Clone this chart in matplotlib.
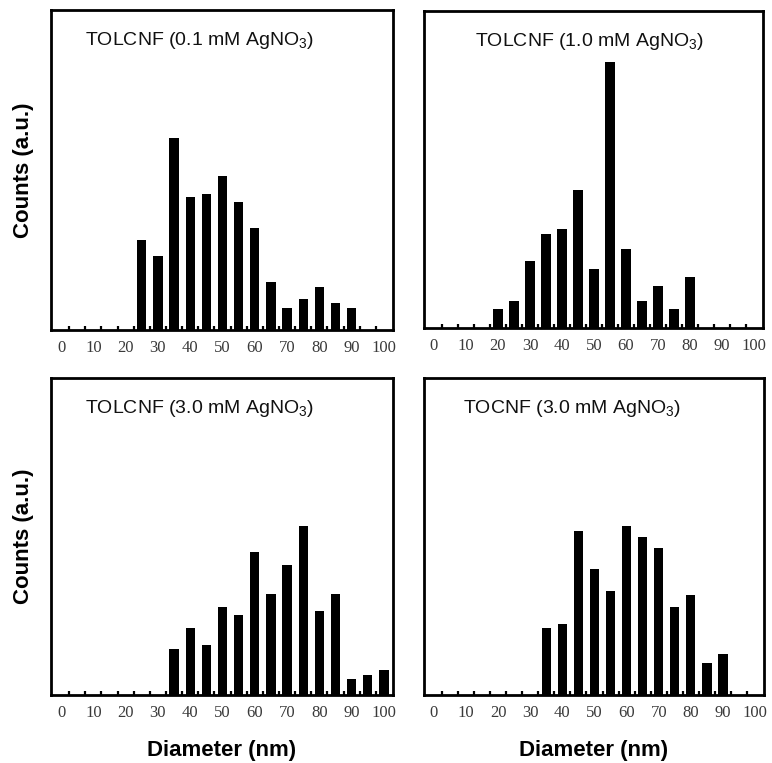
import numpy as np
import matplotlib
matplotlib.use("Agg")
import matplotlib.pyplot as plt

plt.rcParams['mathtext.fontset'] = 'custom'
plt.rcParams['mathtext.rm'] = 'Liberation Sans'
plt.rcParams['mathtext.it'] = 'Liberation Sans'

# Diameter bins (nm) and relative counts
diameters = list(range(0, 101, 5))

counts_01_tol = [0, 0, 0, 0, 0, 28, 23, 60, 41.5, 42.5, 48, 40, 32, 15, 7, 9.7, 13.5, 8.3, 7, 0, 0]
counts_10_tol = [0, 0, 0, 0, 6, 8.6, 21, 29.7, 31.2, 43.4, 18.6, 83.8, 24.9, 8.6, 13.4, 6, 16, 0, 0, 0, 0]
counts_30_tol = [0, 0, 0, 0, 0, 0, 0, 14.6, 21.1, 15.9, 27.7, 25.3, 45.1, 32, 40.9, 53.3, 26.4, 32, 4.9, 6.4, 7.9]
counts_30_toc = [0, 0, 0, 0, 0, 0, 0, 21, 22.4, 51.7, 39.8, 32.9, 53.2, 50, 46.5, 27.7, 31.4, 10, 12.9, 0, 0]

titles = [r'TOLCNF (0.1 mM AgNO$_3$)', r'TOLCNF (1.0 mM AgNO$_3$)',
          r'TOLCNF (3.0 mM AgNO$_3$)', r'TOCNF (3.0 mM AgNO$_3$)']
tick_labels = [str(v) for v in range(0, 101, 10)]

W, H = 772, 763
fig = plt.figure(figsize=(W / 100, H / 100), dpi=100)

# panel frames in pixels: left, top, right, bottom
frames = [(51, 10, 393, 330), (424, 11, 763, 328),
          (51, 378, 393, 695), (424, 378, 764, 695)]
title_x = [0.10, 0.15, 0.10, 0.115]
all_counts = [counts_01_tol, counts_10_tol, counts_30_tol, counts_30_toc]

for i, (fr, counts, title) in enumerate(zip(frames, all_counts, titles)):
    l, t, r, b = fr
    ax = fig.add_axes([l / W, 1 - b / H, (r - l) / W, (b - t) / H])
    ax.bar(diameters, counts, width=2.9, color='black', edgecolor='none')
    ax.set_xlim(-3.1, 102.8)
    ax.set_ylim(0, 100)
    for s in ax.spines.values():
        s.set_linewidth(2.0)
    ax.set_yticks([])
    ax.set_xticks(range(0, 101, 10))
    ax.set_xticklabels(tick_labels, fontfamily='Liberation Serif', fontsize=12, color='#3a3a3a')
    ax.tick_params(axis='x', which='major', length=0, pad=7)
    ax.set_xticks(np.arange(2.5, 100, 5), minor=True)
    ax.tick_params(axis='x', which='minor', direction='in', length=3, width=1.6, color='black')
    ax.text(title_x[i], 0.89, title, transform=ax.transAxes, fontsize=14,
            fontfamily='Liberation Sans', color='#111111', va='baseline', ha='left')
    if i in (0, 2):
        ax.set_ylabel('Counts (a.u.)', fontsize=16, fontweight='bold',
                      fontfamily='Liberation Sans', labelpad=12)
    if i in (2, 3):
        ax.set_xlabel('Diameter (nm)', fontsize=16, fontweight='bold',
                      fontfamily='Liberation Sans', labelpad=14)

fig.savefig('out.png', dpi=100)
